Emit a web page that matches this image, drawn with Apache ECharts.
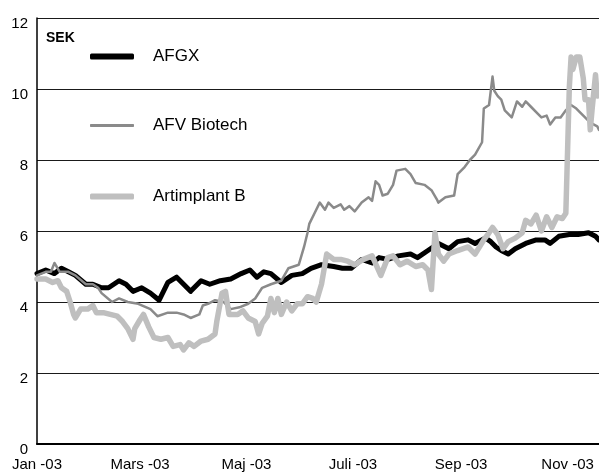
<!DOCTYPE html>
<html>
<head>
<meta charset="utf-8">
<script src="https://cdn.jsdelivr.net/npm/echarts@6/dist/echarts.min.js"></script>
<style>
html,body{margin:0;padding:0;background:#fff;}
#chart{width:599px;height:474px;}
</style>
</head>
<body>
<div id="chart"></div>
<script>
// x values are days since 1 Jan 2003
var tickDays = [0, 59, 120, 181, 243, 304];
var tickLabels = ['Jan -03', 'Mars -03', 'Maj -03', 'Juli -03', 'Sep -03', 'Nov -03'];
var seriesNames = ['AFGX', 'AFV Biotech', 'Artimplant B'];
var unitLabel = 'SEK';

var afgxDays = [0,5,10,14,18,22,28,32,37,41,47,51,55,60,65,70,75,80,88,94,99,105,111,117,122,126,130,134,140,146,152,157,163,170,175,180,186,192,196,201,207,214,218,224,230,236,241,247,251,257,260,263,266,270,274,280,286,291,294,299,305,310,316,320,322];
var afgxValues = [4.8,4.9,4.8,4.95,4.85,4.75,4.5,4.5,4.4,4.4,4.6,4.5,4.3,4.4,4.25,4.05,4.55,4.7,4.3,4.6,4.5,4.6,4.65,4.8,4.9,4.7,4.85,4.8,4.55,4.75,4.8,4.95,5.05,5.0,4.95,4.95,5.2,5.1,5.25,5.2,5.3,5.35,5.25,5.45,5.65,5.5,5.7,5.75,5.65,5.8,5.7,5.55,5.45,5.35,5.5,5.65,5.75,5.75,5.65,5.85,5.9,5.9,5.95,5.85,5.75];

var afvDays = [0,5,8,10,13,18,22,28,32,35,37,43,47,52,58,65,69,75,80,84,88,93,95,98,102,107,111,116,121,125,129,134,140,144,150,153,155,156,159,162,165,167,170,174,176,179,182,186,190,192,194,196,198,201,204,206,211,214,217,222,226,229,230,234,239,241,245,248,251,255,256,259,261,262,264,266,268,272,275,278,280,283,287,289,292,294,297,300,303,306,309,313,317,321,322];
var afvValues = [4.75,4.85,4.85,5.1,4.85,4.85,4.75,4.5,4.5,4.4,4.25,4.0,4.1,4.0,3.95,3.8,3.6,3.7,3.7,3.65,3.55,3.65,3.9,3.95,4.05,4.0,3.8,3.85,3.95,4.1,4.4,4.5,4.6,4.95,5.05,5.55,5.95,6.2,6.5,6.8,6.6,6.8,6.65,6.75,6.6,6.7,6.55,6.8,6.95,6.85,7.4,7.3,7.0,7.05,7.3,7.7,7.75,7.6,7.35,7.3,7.15,6.9,6.8,6.95,7.0,7.6,7.8,8.0,8.15,8.5,9.45,9.55,10.35,9.95,9.8,9.7,9.4,9.2,9.65,9.5,9.65,9.5,9.3,9.2,9.25,9.0,9.2,9.2,9.4,9.55,9.45,9.25,9.05,8.95,8.85];

var artDays = [0,5,9,12,14,17,19,21,22,25,29,32,34,38,42,46,49,52,55,56,59,61,64,67,71,75,78,82,84,87,90,94,98,102,103,106,108,110,115,118,121,125,127,129,132,134,136,138,140,143,146,149,152,155,158,160,163,166,170,174,178,182,187,192,197,201,204,208,212,217,221,224,226,228,230,233,236,241,247,251,256,259,261,264,267,270,274,278,280,283,286,289,292,295,298,301,303,305,306,307,309,311,313,314,316,317,318,320,321,322];
var artValues = [4.65,4.65,4.55,4.6,4.4,4.3,4.0,3.65,3.55,3.8,3.8,3.9,3.7,3.7,3.65,3.6,3.45,3.25,2.95,3.25,3.5,3.65,3.3,3.0,2.95,3.0,2.75,2.8,2.65,2.85,2.75,2.9,2.95,3.1,3.45,4.25,4.3,3.65,3.65,3.75,3.55,3.45,3.1,3.4,3.6,4.1,3.7,4.1,3.65,4.0,3.75,3.95,3.95,4.15,4.1,4.0,4.5,5.35,5.2,5.2,5.15,5.05,5.2,5.3,4.75,5.25,5.3,5.05,5.15,5.0,5.05,4.9,4.35,5.95,5.35,5.15,5.35,5.45,5.55,5.35,5.75,5.95,6.1,5.9,5.5,5.7,5.8,5.95,6.3,6.2,6.45,6.0,6.4,6.1,6.4,6.35,6.5,10.05,10.9,10.55,10.9,10.9,10.3,9.7,9.7,8.85,9.4,10.4,9.8,9.9];

function pairs(xs, ys) { return xs.map(function (x, i) { return [x, ys[i]]; }); }

var FONT = 'Liberation Sans';
var colors = ['#000000', '#8a8a8a', '#bfbfbf'];
var widths = [5, 2.5, 5.5];

var chart = echarts.init(document.getElementById('chart'), null, {renderer: 'canvas'});

function legendFor(i, top, h) {
  return {
    data: [seriesNames[i]],
    left: 90, top: top, padding: 0,
    icon: 'roundRect', itemWidth: 44, itemHeight: h,
    textStyle: {fontFamily: FONT, fontSize: 17, color: '#000', padding: [0, 0, 0, 14]}
  };
}

chart.setOption({
  animation: false,
  backgroundColor: '#fff',
  color: colors,
  title: {
    text: unitLabel, left: 46, top: 31, padding: 0,
    textStyle: {fontFamily: FONT, fontSize: 14, fontWeight: 'bold', color: '#000'}
  },
  legend: [legendFor(0, 48, 6), legendFor(1, 117, 3), legendFor(2, 188, 6)],
  grid: {left: 37, right: 0, top: 18, bottom: 30, containLabel: false},
  xAxis: {
    type: 'value', min: 0, max: 322,
    axisLine: {show: true, lineStyle: {color: '#000', width: 2}},
    axisTick: {show: false},
    splitLine: {show: false},
    axisLabel: {
      customValues: tickDays,
      fontFamily: FONT, fontSize: 15, color: '#000', margin: 13,
      showMinLabel: true, showMaxLabel: true, hideOverlap: false,
      formatter: function (v) {
        var k = tickDays.indexOf(Math.round(v));
        return k >= 0 ? tickLabels[k] : '';
      }
    }
  },
  yAxis: {
    type: 'value', min: 0, max: 12, interval: 2,
    axisLine: {show: true, lineStyle: {color: '#000', width: 1.5}},
    axisTick: {show: false},
    splitLine: {show: true, lineStyle: {color: '#1a1a1a', width: 1}},
    axisLabel: {fontFamily: FONT, fontSize: 15, color: '#000', margin: 9, verticalAlign: 'top', lineHeight: 11}
  },
  series: [0, 1, 2].map(function (i) {
    var d = [pairs(afgxDays, afgxValues), pairs(afvDays, afvValues), pairs(artDays, artValues)][i];
    return {
      name: seriesNames[i], type: 'line', data: d,
      symbol: 'none', showSymbol: false, clip: true,
      lineStyle: {color: colors[i], width: widths[i], cap: 'round', join: 'round'},
      itemStyle: {color: colors[i]},
      z: 2 + i
    };
  })
});
</script>
</body>
</html>
